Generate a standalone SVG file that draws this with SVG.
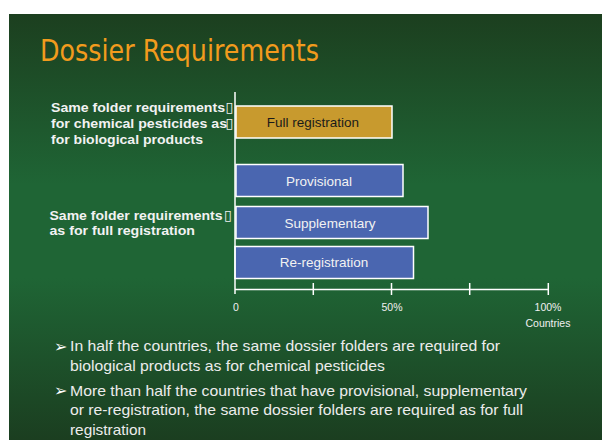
<svg xmlns="http://www.w3.org/2000/svg" width="602" height="440" viewBox="0 0 602 440">
<defs>
<linearGradient id="bg" x1="0" y1="0" x2="0" y2="1">
<stop offset="0" stop-color="#1c3f1f"/>
<stop offset="0.4" stop-color="#1f6535"/>
<stop offset="0.62" stop-color="#1f6535"/>
<stop offset="1" stop-color="#1b3e20"/>
</linearGradient>
<style>
.lbl{font-family:"Liberation Sans",Arial,sans-serif;font-weight:bold;font-size:12px;fill:#f2f2f2}
.box{font-family:"DejaVu Sans",sans-serif;font-weight:normal;font-size:14px}
.bar{stroke:#ffffff;stroke-width:1.5}
.blue{fill:#4a66b0}
.gold{fill:#c89a2e}
.bt{font-family:"Liberation Sans",Arial,sans-serif;font-size:13.5px;text-anchor:middle}
.ax{stroke:#ffffff;stroke-width:1.5;fill:none}
.tk{font-family:"Liberation Sans",Arial,sans-serif;font-size:10.5px;fill:#f0f0f0;text-anchor:middle}
.bul{font-family:"Liberation Sans",Arial,sans-serif;font-size:14.5px;fill:#ececec}
.arr{font-family:"DejaVu Sans",sans-serif;font-size:16px;fill:#ffffff}
</style>
</defs>
<rect x="0" y="0" width="602" height="440" fill="#ffffff"/>
<rect x="9" y="14" width="593" height="426" fill="url(#bg)"/>
<text id="title" x="40" y="61" font-family="DejaVu Sans, sans-serif" font-size="31" fill="#f29b1d" textLength="279" lengthAdjust="spacingAndGlyphs">Dossier Requirements</text>

<g id="label1">
<text class="lbl" x="51" y="112" textLength="174" lengthAdjust="spacingAndGlyphs">Same folder requirements</text><text class="lbl box" x="225.5" y="112">▯</text>
<text class="lbl" x="51" y="127.5" textLength="176" lengthAdjust="spacingAndGlyphs">for chemical pesticides as</text><text class="lbl box" x="225.5" y="127.5">▯</text>
<text class="lbl" x="51" y="143.5" textLength="152" lengthAdjust="spacingAndGlyphs">for biological products</text>
</g>
<g id="label2">
<text class="lbl" x="49.5" y="219.5" textLength="173" lengthAdjust="spacingAndGlyphs">Same folder requirements</text><text class="lbl box" x="224" y="219.5">▯</text>
<text class="lbl" x="49.5" y="235" textLength="145.5" lengthAdjust="spacingAndGlyphs">as for full registration</text>
</g>

<g id="bar-full">
<rect class="bar gold" x="236" y="106" width="156" height="32"/>
<text class="bt" x="313" y="127" fill="#1a1a1a">Full registration</text>
</g>
<g id="bar-provisional">
<rect class="bar blue" x="236" y="164.5" width="167" height="32"/>
<text class="bt" x="319" y="185.5" fill="#f2f2f2">Provisional</text>
</g>
<g id="bar-supplementary">
<rect class="bar blue" x="236" y="206.5" width="192" height="32"/>
<text class="bt" x="330" y="227.5" fill="#f2f2f2">Supplementary</text>
</g>
<g id="bar-reregistration">
<rect class="bar blue" x="235" y="246.5" width="178.5" height="32"/>
<text class="bt" x="324" y="267" fill="#f2f2f2">Re-registration</text>
</g>

<g id="axes">
<line class="ax" x1="235" y1="92" x2="235" y2="294"/>
<line class="ax" x1="235" y1="289.5" x2="548.5" y2="289.5"/>
<line class="ax" x1="313.3" y1="283" x2="313.3" y2="295"/>
<line class="ax" x1="391.5" y1="283" x2="391.5" y2="295"/>
<line class="ax" x1="469.7" y1="283" x2="469.7" y2="295"/>
<line class="ax" x1="548.3" y1="283" x2="548.3" y2="295"/>
<text class="tk" x="236" y="311">0</text>
<text class="tk" x="392" y="311">50%</text>
<text class="tk" x="548" y="311">100%</text>
<text class="tk" x="548" y="326.5" font-size="9.5">Countries</text>
</g>

<g id="bullets">
<text class="arr" x="54" y="351.5">➢</text>
<text class="bul" x="70" y="351" textLength="430" lengthAdjust="spacingAndGlyphs">In half the countries, the same dossier folders are required for</text>
<text class="bul" x="70" y="370.5" textLength="315" lengthAdjust="spacingAndGlyphs">biological products as for chemical pesticides</text>
<text class="arr" x="54" y="396">➢</text>
<text class="bul" x="70" y="395.5" textLength="457" lengthAdjust="spacingAndGlyphs">More than half the countries that have provisional, supplementary</text>
<text class="bul" x="70" y="415" textLength="453" lengthAdjust="spacingAndGlyphs">or re-registration, the same dossier folders are required as for full</text>
<text class="bul" x="70" y="435" textLength="76" lengthAdjust="spacingAndGlyphs">registration</text>
</g>
</svg>
